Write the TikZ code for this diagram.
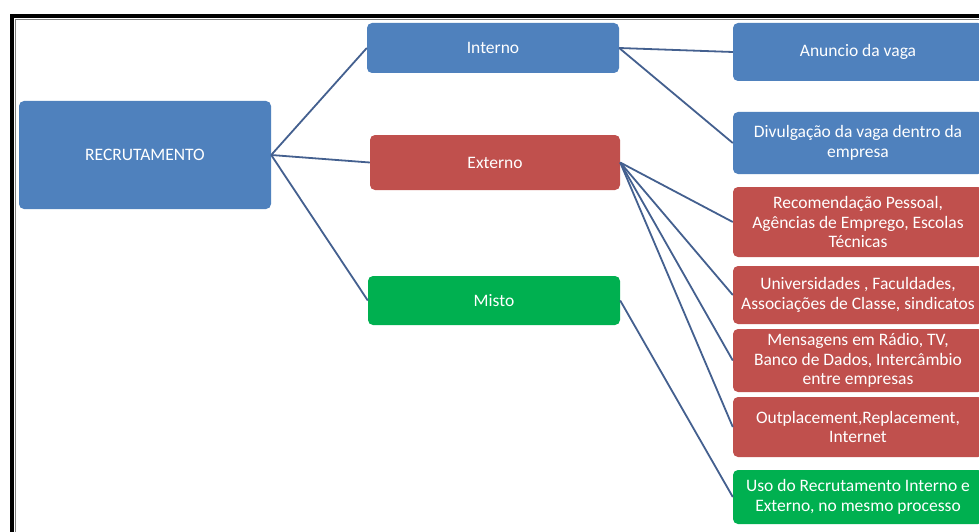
\documentclass[tikz,border=0pt]{standalone}
\usepackage{fontspec}
\setmainfont{Carlito}
\definecolor{cblue}{HTML}{4F81BD}
\definecolor{cred}{HTML}{C0504D}
\definecolor{cgreen}{HTML}{00B050}
\definecolor{cline}{HTML}{44608F}
\tikzset{
  box/.style={rounded corners=5pt, inner sep=1pt, align=center, text=white, font=\fontsize{17.5}{19.5}\selectfont, anchor=center},
  bluebox/.style={box, fill=cblue},
  redbox/.style={box, fill=cred},
  greenbox/.style={box, fill=cgreen},
  conn/.style={draw=cline, line width=1.8pt}
}
\begin{document}
\begin{tikzpicture}[x=1pt,y=-1pt]
\useasboundingbox (0,0) rectangle (979,532);
\clip (0,0) rectangle (979,532);
\fill[white] (0,0) rectangle (979,532);
\draw[line width=4pt, black] (12,16) rectangle (1000,560);
\draw[line width=0.8pt, gray] (15,19) rectangle (1000,560);

\node[bluebox, minimum width=252pt, minimum height=108pt] (rec) at (145,155) {RECRUTAMENTO};
\node[bluebox, minimum width=252pt, minimum height=50pt] (int) at (493,48) {Interno};
\node[redbox, minimum width=250pt, minimum height=55pt] (ext) at (495,162.5) {Externo};
\node[greenbox, minimum width=252pt, minimum height=49pt] (mis) at (494,300.5) {Misto};

\node[bluebox, minimum width=250pt, minimum height=58pt] (a1) at (858,52) {Anuncio da vaga};
\node[bluebox, minimum width=250pt, minimum height=62pt] (a2) at (858,143) {Divulgação da vaga dentro da\\empresa};
\node[redbox, minimum width=250pt, minimum height=70pt] (b1) at (858,222) {Recomendação Pessoal,\\Agências de Emprego, Escolas\\Técnicas};
\node[redbox, minimum width=250pt, minimum height=58pt] (b2) at (858,295) {Universidades , Faculdades,\\Associações de Classe, sindicatos};
\node[redbox, minimum width=250pt, minimum height=63pt] (b3) at (858,360.5) {Mensagens em Rádio, TV,\\Banco de Dados, Intercâmbio\\entre empresas};
\node[redbox, minimum width=250pt, minimum height=60pt] (b4) at (858,427) {Outplacement,Replacement,\\Internet};
\node[greenbox, minimum width=250pt, minimum height=54pt] (c1) at (858,497) {Uso do Recrutamento Interno e\\Externo, no mesmo processo};

\draw[conn] (rec.east) -- (int.west);
\draw[conn] (rec.east) -- (ext.west);
\draw[conn] (rec.east) -- (mis.west);
\draw[conn] (int.east) -- (a1.west);
\draw[conn] (int.east) -- (a2.west);
\draw[conn] (ext.east) -- (b1.west);
\draw[conn] (ext.east) -- (b2.west);
\draw[conn] (ext.east) -- (b3.west);
\draw[conn] (ext.east) -- (b4.west);
\draw[conn] (mis.east) -- (c1.west);
\end{tikzpicture}
\end{document}
